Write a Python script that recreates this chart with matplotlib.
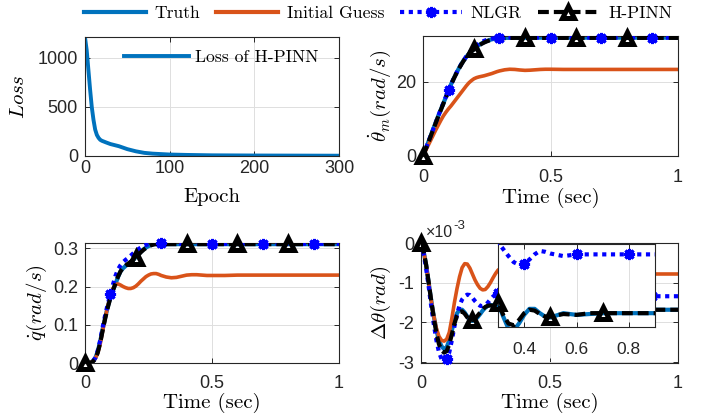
import matplotlib.pyplot as plt
from matplotlib.lines import Line2D

plt.rcParams['font.family'] = ['Liberation Sans', 'DejaVu Sans']
plt.rcParams['mathtext.fontset'] = 'cm'
plt.rcParams['axes.unicode_minus'] = False

# ---- data ----
epoch = [0, 2, 4, 6, 8, 10, 12, 14, 16, 18, 20, 25, 30, 40, 50, 60, 70, 80,
         100, 120, 150, 200, 250, 300]
loss = [1210, 1080, 880, 680, 500, 370, 270, 215, 185, 165, 155, 138, 122,
        100, 70, 48, 32, 24, 15, 11, 7, 5, 4, 3]

t = [0.00, 0.01, 0.02, 0.03, 0.04, 0.05, 0.06, 0.07, 0.08, 0.09,
     0.10, 0.11, 0.12, 0.13, 0.14, 0.15, 0.16, 0.17, 0.18, 0.19,
     0.20, 0.21, 0.22, 0.23, 0.24, 0.25, 0.26, 0.27, 0.28, 0.29,
     0.30, 0.32, 0.34, 0.36, 0.38, 0.40, 0.42, 0.44, 0.46, 0.48,
     0.50, 0.55, 0.60, 0.65, 0.70, 0.75, 0.80, 0.85, 0.90, 0.95, 1.00]

# motor speed (rad/s)
wm_true = [0.0, 1.8, 3.6, 5.4, 7.2, 9.0, 10.8, 12.5, 14.2, 15.9,
           17.6, 19.3, 20.8, 22.2, 23.5, 24.7, 25.8, 26.7, 27.5, 28.2,
           28.8, 29.4, 29.9, 30.3, 30.65, 30.95, 31.2, 31.4, 31.55, 31.65,
           31.7, 31.78, 31.82, 31.84, 31.85, 31.85, 31.85, 31.85, 31.85, 31.85,
           31.85, 31.85, 31.85, 31.85, 31.85, 31.85, 31.85, 31.85, 31.85, 31.85, 31.85]
wm_init = [0.0, 1.4, 2.8, 4.2, 5.6, 7.0, 8.3, 9.6, 10.8, 11.8,
           12.7, 13.5, 14.4, 15.3, 16.2, 17.1, 18.0, 18.9, 19.7, 20.3,
           20.8, 21.1, 21.3, 21.45, 21.6, 21.8, 22.0, 22.2, 22.45, 22.7,
           22.9, 23.2, 23.35, 23.3, 23.15, 23.05, 23.1, 23.2, 23.3, 23.35,
           23.35, 23.3, 23.3, 23.3, 23.3, 23.3, 23.3, 23.3, 23.3, 23.3, 23.3]
wm_nlgr = [0.0, 1.8, 3.6, 5.4, 7.2, 9.0, 10.8, 12.6, 14.3, 16.0,
           17.7, 19.3, 20.8, 22.2, 23.5, 24.7, 25.8, 26.8, 27.7, 28.5,
           29.2, 29.8, 30.3, 30.7, 31.0, 31.25, 31.45, 31.6, 31.7, 31.78,
           31.82, 31.86, 31.88, 31.88, 31.87, 31.86, 31.86, 31.86, 31.86, 31.86,
           31.86, 31.86, 31.86, 31.86, 31.86, 31.86, 31.86, 31.86, 31.86, 31.86, 31.86]
wm_hpinn = [0.0, 1.7, 3.5, 5.3, 7.1, 8.9, 10.7, 12.4, 14.1, 15.8,
            17.5, 19.2, 20.7, 22.1, 23.4, 24.6, 25.7, 26.6, 27.4, 28.1,
            28.7, 29.3, 29.8, 30.2, 30.55, 30.85, 31.1, 31.3, 31.45, 31.55,
            31.62, 31.72, 31.78, 31.8, 31.8, 31.8, 31.8, 31.8, 31.8, 31.8,
            31.8, 31.8, 31.8, 31.8, 31.8, 31.8, 31.8, 31.8, 31.8, 31.8, 31.8]

# link speed (rad/s)
qd_true = [0.0, 0.0, 0.001, 0.004, 0.012, 0.03, 0.057, 0.09, 0.12, 0.148,
           0.172, 0.19, 0.207, 0.225, 0.24, 0.248, 0.254, 0.259, 0.264, 0.27,
           0.277, 0.284, 0.291, 0.297, 0.302, 0.306, 0.309, 0.311, 0.312, 0.312,
           0.312, 0.311, 0.311, 0.311, 0.311, 0.311, 0.311, 0.311, 0.311, 0.311,
           0.311, 0.311, 0.311, 0.311, 0.311, 0.311, 0.311, 0.311, 0.311, 0.311, 0.311]
qd_init = [0.0, 0.0, 0.001, 0.004, 0.011, 0.025, 0.05, 0.085, 0.12, 0.15,
           0.175, 0.195, 0.205, 0.207, 0.204, 0.2, 0.197, 0.195, 0.195, 0.197,
           0.201, 0.207, 0.214, 0.22, 0.226, 0.23, 0.233, 0.234, 0.234, 0.232,
           0.229, 0.225, 0.223, 0.224, 0.227, 0.23, 0.231, 0.231, 0.23, 0.229,
           0.229, 0.229, 0.23, 0.23, 0.23, 0.23, 0.23, 0.23, 0.23, 0.23, 0.23]
qd_nlgr = [0.0, 0.0, 0.001, 0.004, 0.013, 0.032, 0.06, 0.095, 0.127, 0.155,
           0.18, 0.205, 0.228, 0.245, 0.256, 0.264, 0.27, 0.275, 0.281, 0.287,
           0.293, 0.298, 0.302, 0.306, 0.309, 0.311, 0.312, 0.313, 0.313, 0.313,
           0.313, 0.312, 0.312, 0.312, 0.312, 0.312, 0.312, 0.312, 0.312, 0.312,
           0.312, 0.312, 0.312, 0.312, 0.312, 0.312, 0.312, 0.312, 0.312, 0.312, 0.312]
qd_hpinn = [0.0, 0.0, 0.0, 0.003, 0.01, 0.027, 0.053, 0.087, 0.118, 0.146,
            0.17, 0.19, 0.208, 0.226, 0.24, 0.249, 0.255, 0.26, 0.265, 0.27,
            0.276, 0.283, 0.29, 0.296, 0.301, 0.305, 0.308, 0.31, 0.311, 0.311,
            0.311, 0.311, 0.311, 0.311, 0.311, 0.311, 0.311, 0.311, 0.311, 0.311,
            0.311, 0.311, 0.311, 0.311, 0.311, 0.311, 0.311, 0.311, 0.311, 0.311, 0.311]

# deflection (x 1e-3 rad)
dth_true = [0.0, -0.2, -0.55, -1.0, -1.45, -1.85, -2.2, -2.45, -2.6, -2.67,
            -2.62, -2.45, -2.2, -1.95, -1.77, -1.68, -1.68, -1.75, -1.85, -1.93,
            -1.96, -1.93, -1.87, -1.79, -1.7, -1.63, -1.58, -1.56, -1.57, -1.59,
            -1.62, -1.7, -1.77, -1.78, -1.74, -1.69, -1.655, -1.655, -1.68, -1.70,
            -1.705, -1.68, -1.69, -1.685, -1.68, -1.68, -1.68, -1.68, -1.68, -1.68, -1.68]
dth_init = [0.0, -0.2, -0.55, -1.0, -1.45, -1.85, -2.15, -2.35, -2.45, -2.47,
            -2.42, -2.25, -1.9, -1.5, -1.15, -0.85, -0.62, -0.52, -0.53, -0.63,
            -0.78, -0.93, -1.05, -1.14, -1.18, -1.17, -1.1, -1.0, -0.88, -0.77,
            -0.68, -0.6, -0.62, -0.7, -0.8, -0.86, -0.86, -0.83, -0.79, -0.77,
            -0.77, -0.79, -0.78, -0.78, -0.78, -0.78, -0.78, -0.78, -0.78, -0.78, -0.78]
dth_nlgr = [0.0, -0.25, -0.65, -1.1, -1.6, -2.05, -2.45, -2.75, -2.92, -2.98,
            -2.93, -2.75, -2.45, -2.1, -1.8, -1.57, -1.42, -1.34, -1.3, -1.31,
            -1.38, -1.46, -1.53, -1.58, -1.59, -1.56, -1.5, -1.42, -1.35, -1.3,
            -1.27, -1.31, -1.35, -1.385, -1.40, -1.395, -1.37, -1.34, -1.32, -1.325,
            -1.335, -1.35, -1.34, -1.34, -1.34, -1.34, -1.34, -1.34, -1.34, -1.34, -1.34]
dth_hpinn = [0.0, -0.2, -0.55, -1.0, -1.47, -1.9, -2.27, -2.55, -2.7, -2.76,
             -2.72, -2.55, -2.3, -2.03, -1.83, -1.73, -1.72, -1.78, -1.87, -1.93,
             -1.94, -1.9, -1.83, -1.75, -1.67, -1.61, -1.58, -1.57, -1.58, -1.6,
             -1.62, -1.69, -1.74, -1.75, -1.72, -1.68, -1.66, -1.665, -1.685, -1.70,
             -1.70, -1.685, -1.69, -1.68, -1.68, -1.68, -1.68, -1.68, -1.68, -1.68, -1.68]

labels = ['Truth', 'Initial Guess', 'NLGR', 'H-PINN']

# marker positions (indices into t)
nl_marks = [10, 30, 40, 44, 48]
hp_marks = [0, 20, 35, 42, 46]
nl_marks_inset = [35, 42, 46]
hp_marks_inset = [30, 40, 44]

c_true = '#0072BD'
c_init = '#D95319'
ast = (8, 2, 0)
dash = (0, (2.6, 1.2))
dots = (0, (1, 1.1))
cm = {'family': 'cmr10', 'size': 12.7}
tri = dict(marker='^', ms=9, mew=3.6, mfc='none', mec='k')
star = dict(marker=ast, ms=8, mew=2.2)
W, H = 702, 416


def box(l, tp, r, b):
    return [l / W, 1 - b / H, (r - l) / W, (b - tp) / H]


def style(ax, xpad=9):
    ax.tick_params(direction='in', top=True, right=True, length=3.5, width=0.7,
                   labelsize=13, colors='#262626')
    ax.tick_params(axis='x', pad=xpad)
    ax.tick_params(axis='y', pad=5)
    for s in ax.spines.values():
        s.set_color('#262626')
        s.set_linewidth(0.8)
    ax.grid(True, color='#dedede', linewidth=0.7)
    ax.set_axisbelow(True)


def draw(ax, true, init, nlgr, hpinn, nlm, hpm):
    ax.plot(t, true, color=c_true, lw=3, zorder=2)
    ax.plot(t, init, color=c_init, lw=2.6, zorder=2)
    ax.plot(t, nlgr, color='b', lw=3, ls=dots, zorder=3)
    ax.plot(t, hpinn, color='k', lw=3, ls=dash, zorder=4)
    ax.plot([t[i] for i in nlm], [nlgr[i] for i in nlm], ls='none', color='b',
            clip_on=False, zorder=5, **star)
    ax.plot([t[i] for i in hpm], [hpinn[i] for i in hpm], ls='none',
            clip_on=False, zorder=6, **tri)


fig = plt.figure(figsize=(W / 100, H / 100), dpi=100)

# loss
ax1 = fig.add_axes(box(85, 37, 339, 156))
style(ax1, xpad=3)
ax1.plot(epoch, loss, color=c_true, lw=2.8, label='Loss of H-PINN')
ax1.set_xlim(0, 300)
ax1.set_ylim(0, 1214)
ax1.set_xticks([0, 100, 200, 300])
ax1.set_yticks([0, 500, 1000])
ax1.set_xlabel('Epoch', fontfamily='cmr10', fontsize=15)
ax1.set_ylabel(r'$Loss$', fontsize=15)
ax1.xaxis.set_label_coords(0.5, -0.27)
ax1.yaxis.set_label_coords(-0.224, 0.5)
ax1.legend(loc='upper right', bbox_to_anchor=(0.96, 0.98), frameon=False,
           prop=cm, handlelength=3.7, handletextpad=0.3, borderaxespad=0.2)

# motor speed
ax2 = fig.add_axes(box(423, 36, 678, 156))
style(ax2)
draw(ax2, wm_true, wm_init, wm_nlgr, wm_hpinn, nl_marks, hp_marks)
ax2.set_xlim(0, 1)
ax2.set_ylim(0, 32.3)
ax2.set_xticks([0, 0.5, 1], ['0', '0.5', '1'])
ax2.set_yticks([0, 20])
ax2.set_xlabel('Time (sec)', fontfamily='cmr10', fontsize=15)
ax2.set_ylabel(r'$\dot{\theta}_m(rad/s)$', fontsize=15)
ax2.xaxis.set_label_coords(0.5, -0.267)
ax2.yaxis.set_label_coords(-0.118, 0.5)

# link speed
ax3 = fig.add_axes(box(85, 243, 339, 363))
style(ax3)
draw(ax3, qd_true, qd_init, qd_nlgr, qd_hpinn, nl_marks, hp_marks)
ax3.set_xlim(0, 1)
ax3.set_ylim(0, 0.314)
ax3.set_xticks([0, 0.5, 1], ['0', '0.5', '1'])
ax3.set_yticks([0, 0.1, 0.2, 0.3], ['0', '0.1', '0.2', '0.3'])
ax3.set_xlabel('Time (sec)', fontfamily='cmr10', fontsize=15)
ax3.set_ylabel(r'$\dot{q}(rad/s)$', fontsize=15)
ax3.xaxis.set_label_coords(0.5, -0.25)
ax3.yaxis.set_label_coords(-0.142, 0.5)

# deflection
ax4 = fig.add_axes(box(421, 243, 678, 363))
style(ax4)
draw(ax4, dth_true, dth_init, dth_nlgr, dth_hpinn, nl_marks, hp_marks)
ax4.set_xlim(0, 1)
ax4.set_ylim(-3.02, 0)
ax4.set_xticks([0, 0.5, 1], ['0', '0.5', '1'])
ax4.set_yticks([-3, -2, -1, 0], ['-3', '-2', '-1', '0'])
ax4.set_xlabel('Time (sec)', fontfamily='cmr10', fontsize=15)
ax4.set_ylabel(r'$\Delta\theta(rad)$', fontsize=15)
ax4.xaxis.set_label_coords(0.5, -0.25)
ax4.yaxis.set_label_coords(-0.109, 0.5)
fig.text(426 / W, 1 - 237 / H, '×10', fontsize=11.5, color='#262626')
fig.text(453 / W, 1 - 229 / H, '-3', fontsize=9.5, color='#262626')

# inset
ax5 = fig.add_axes(box(498, 244, 655, 327))
ax5.set_facecolor('white')
style(ax5, xpad=11)
ax5.grid(True, axis='x', color='#dedede', linewidth=0.7)
ax5.grid(False, axis='y')
draw(ax5, dth_true, dth_init, dth_nlgr, dth_hpinn, nl_marks_inset, hp_marks_inset)
ax5.set_xlim(0.3, 0.9)
ax5.set_ylim(-1.76, -1.28)
ax5.set_xticks([0.4, 0.6, 0.8], ['0.4', '0.6', '0.8'])
ax5.set_yticks([])
ax5.tick_params(labelsize=12.5)

# shared legend
handles = [Line2D([], [], color=c_true, lw=3),
           Line2D([], [], color=c_init, lw=3),
           Line2D([], [], color='b', lw=3, ls=dots, **star),
           Line2D([], [], color='k', lw=3, ls=dash, **tri)]
fig.legend(handles, labels, loc='center', bbox_to_anchor=(378 / W, 1 - 13 / H),
           ncol=4, frameon=False, prop=cm, handlelength=3.5, handletextpad=0.5,
           columnspacing=0.9, numpoints=1)

fig.savefig('out.png', dpi=100)
